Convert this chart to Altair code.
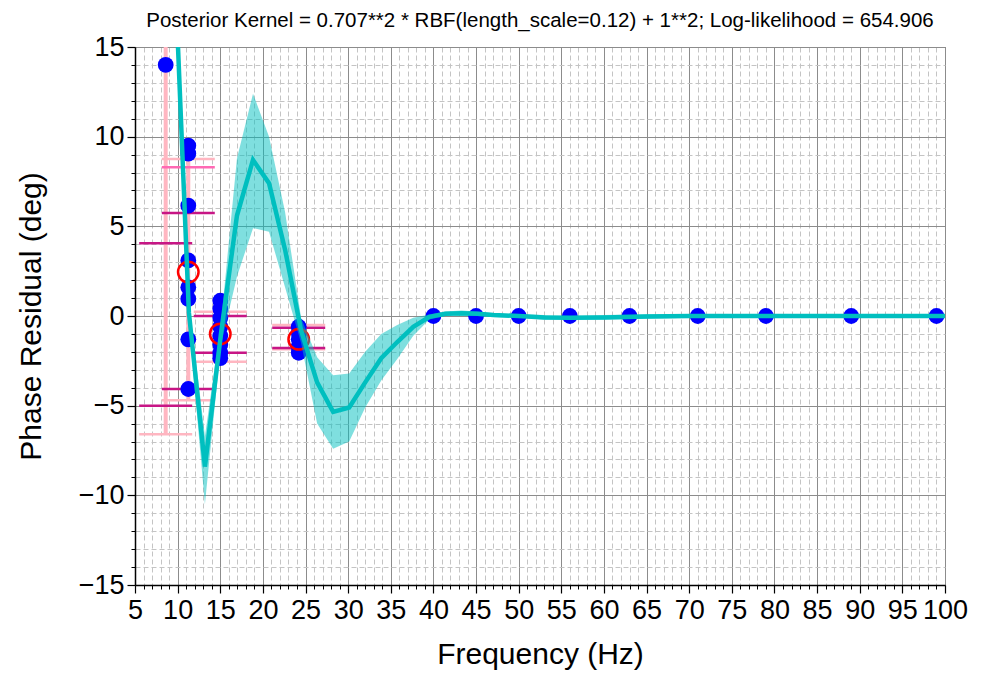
import altair as alt
import pandas as pd
import numpy as np

# ---- data ----
grid_f = [9.44, 11.32, 13.2, 15.08, 16.96, 18.84, 20.72, 22.6, 24.48, 26.36, 28.24, 30.12,
          32.0, 33.88, 35.76, 37.64, 39.52, 41.4, 43.28, 45.16, 47.04, 50, 53, 56, 60, 65,
          70, 75, 80, 85, 90, 95, 100]
mean = [22.0, 0.2, -8.4, -1.0, 5.6, 8.7, 7.4, 3.7, -0.8, -3.7, -5.35, -5.1,
        -3.7, -2.35, -1.45, -0.6, -0.05, 0.12, 0.15, 0.12, 0.05, 0.0, -0.08, -0.1, -0.08, -0.03,
        0.0, 0.0, 0.0, 0.0, 0.0, 0.0, 0.0]
upper = [24.0, 0.8, -6.7, -0.4, 8.8, 12.4, 10.0, 5.8, -0.1, -2.3, -3.3, -3.2,
         -2.0, -1.0, -0.5, -0.1, 0.08, 0.25, 0.3, 0.25, 0.15, 0.1, 0.05, 0.0, 0.05, 0.1,
         0.1, 0.08, 0.1, 0.1, 0.1, 0.1, 0.1]
lower = [20.0, -0.4, -10.5, -1.6, 2.2, 4.9, 4.7, 1.6, -1.5, -6.0, -7.4, -7.0,
         -5.1, -3.6, -2.4, -1.1, -0.2, 0.0, 0.0, 0.0, -0.05, -0.1, -0.2, -0.2, -0.2, -0.15,
         -0.1, -0.1, -0.1, -0.1, -0.1, -0.1, -0.1]

pt_f = [8.6,
        11.25, 11.25, 11.25, 11.25, 11.25, 11.25, 11.25, 11.25,
        15.0, 15.0, 15.0, 15.0, 15.0, 15.0, 15.0, 15.0,
        24.2, 24.2, 24.2, 24.2, 24.2,
        40, 45, 50, 56, 63, 71, 79, 89, 99]
pt_v = [14.0,
        9.5, 9.05, 6.15, 3.1, 1.6, 0.95, -1.3, -4.07,
        0.85, 0.4, -0.1, -0.6, -1.1, -1.6, -2.05, -2.35,
        -0.6, -0.95, -1.3, -1.7, -2.05,
        0, 0, 0, 0, 0, 0, 0, 0, 0]

mean_f = [11.25, 15.0, 24.2]
mean_v = [2.45, -1.0, -1.3]

bar_f = [8.6, 11.25, 15.0, 24.2]
pink_lo = [-6.6, -4.7, -2.55, -1.85]
pink_hi = [17.0, 8.75, 0.24, -0.5]
mag_lo = [-5.0, -4.07, -2.05, -1.78]
mag_hi = [4.05, 5.75, 0.0, -0.65]
hot_f = [11.25]
hot_v = [8.3]

x_ticks = list(range(5, 101, 5))
y_ticks = list(range(-15, 16, 5))

TITLE = "Posterior Kernel = 0.707**2 * RBF(length_scale=0.12) + 1**2; Log-likelihood = 654.906"
FONT = "Liberation Sans"

# ---- tables ----
curve = pd.DataFrame({"f": grid_f, "m": mean, "u": upper, "l": lower})
pts = pd.DataFrame({"f": pt_f, "v": pt_v})
means = pd.DataFrame({"f": mean_f, "v": mean_v})
bars = pd.DataFrame({"f": bar_f, "plo": pink_lo, "phi": pink_hi, "mlo": mag_lo, "mhi": mag_hi})
pink_caps = pd.DataFrame({"f": bar_f + bar_f, "v": pink_lo + pink_hi})
mag_caps = pd.DataFrame({"f": bar_f + bar_f, "v": mag_lo + mag_hi})
hot_caps = pd.DataFrame({"f": hot_f, "v": hot_v})

xs = alt.Scale(domain=[5, 100], nice=False, zero=False)
ys = alt.Scale(domain=[-15, 15], nice=False, zero=False)

x_axis = alt.Axis(values=x_ticks, title="Frequency (Hz)", grid=True, gridColor="#8c8c8c",
                  gridWidth=1, tickSize=8, tickColor="black", tickWidth=1.2,
                  domainColor="black", domainWidth=1.5, labelFontSize=27, labelFont=FONT,
                  labelColor="black", labelPadding=4, labelOverlap=False, labelFlush=False,
                  titleFontSize=30, titleFont=FONT, titleFontWeight="normal", titleColor="black",
                  titlePadding=16, orient="bottom", format="d")
y_axis = alt.Axis(values=y_ticks, title="Phase Residual (deg)", grid=True, gridColor="#8c8c8c",
                  gridWidth=1, tickSize=8, tickColor="black", tickWidth=1.2,
                  domainColor="black", domainWidth=1.5, labelFontSize=27, labelFont=FONT,
                  labelColor="black", labelPadding=3, labelOverlap=False, labelFlush=False,
                  titleFontSize=30, titleFont=FONT, titleFontWeight="normal", titleColor="black",
                  titlePadding=32, orient="left", format="d")

minor_x = [v for v in range(6, 100) if v % 5 != 0]
minor_y = [v for v in range(-14, 15) if v % 5 != 0]
mx_axis = alt.Axis(values=minor_x, title=None, labels=False, grid=True, gridColor="#c4c4c4",
                   gridDash=[5, 3], gridWidth=1, tickSize=4, tickColor="black", domain=False,
                   orient="bottom")
my_axis = alt.Axis(values=minor_y, title=None, labels=False, grid=True, gridColor="#c4c4c4",
                   gridDash=[5, 3], gridWidth=1, tickSize=4, tickColor="black", domain=False,
                   orient="left")

minor = alt.Chart(pts).mark_point(opacity=0, clip=True).encode(
    x=alt.X("f:Q", scale=xs, axis=mx_axis), y=alt.Y("v:Q", scale=ys, axis=my_axis))

pink_bar = alt.Chart(bars).mark_rule(color="#ffb6c1", strokeWidth=4, clip=True).encode(
    x=alt.X("f:Q", scale=xs, axis=x_axis), y=alt.Y("plo:Q", scale=ys, axis=y_axis), y2="phi:Q")
pink_cap = alt.Chart(pink_caps).mark_tick(color="#ffb6c1", orient="horizontal", size=53,
                                          thickness=2.5, clip=True, opacity=1).encode(
    x="f:Q", y="v:Q")
mag_cap = alt.Chart(mag_caps).mark_tick(color="#c71585", orient="horizontal", size=53,
                                        thickness=2.5, clip=True, opacity=1).encode(
    x="f:Q", y="v:Q")
hot_cap = alt.Chart(hot_caps).mark_tick(color="#ff69b4", orient="horizontal", size=53,
                                        thickness=2.5, clip=True, opacity=1).encode(
    x="f:Q", y="v:Q")
dots = alt.Chart(pts).mark_circle(color="#0000ff", size=250, opacity=1).encode(x="f:Q", y="v:Q")
rings = alt.Chart(means).mark_point(color="#ff0000", size=420, strokeWidth=2.5, filled=False,
                                    opacity=1).encode(x="f:Q", y="v:Q")
band = alt.Chart(curve).mark_area(color="#00bfbf", opacity=0.5, clip=True).encode(
    x="f:Q", y="l:Q", y2="u:Q")
line = alt.Chart(curve).mark_line(color="#00bfbf", strokeWidth=4.5, clip=True).encode(
    x="f:Q", y="m:Q")

main = alt.layer(pink_bar, pink_cap, mag_cap, hot_cap, dots, rings, band, line)

chart = alt.layer(minor, main).resolve_axis(x="independent", y="independent").properties(
    width=810, height=538,
    title=alt.Title(TITLE, fontSize=20.5, font=FONT, fontWeight="normal", color="black",
                    anchor="middle", offset=2),
    autosize=alt.AutoSizeParams(type="none"),
    padding={"left": 127, "top": 39, "right": 34, "bottom": 85},
).configure_view(stroke="#555555", strokeWidth=1)

chart.save("out.html", embed_options={"renderer": "svg", "actions": False})
